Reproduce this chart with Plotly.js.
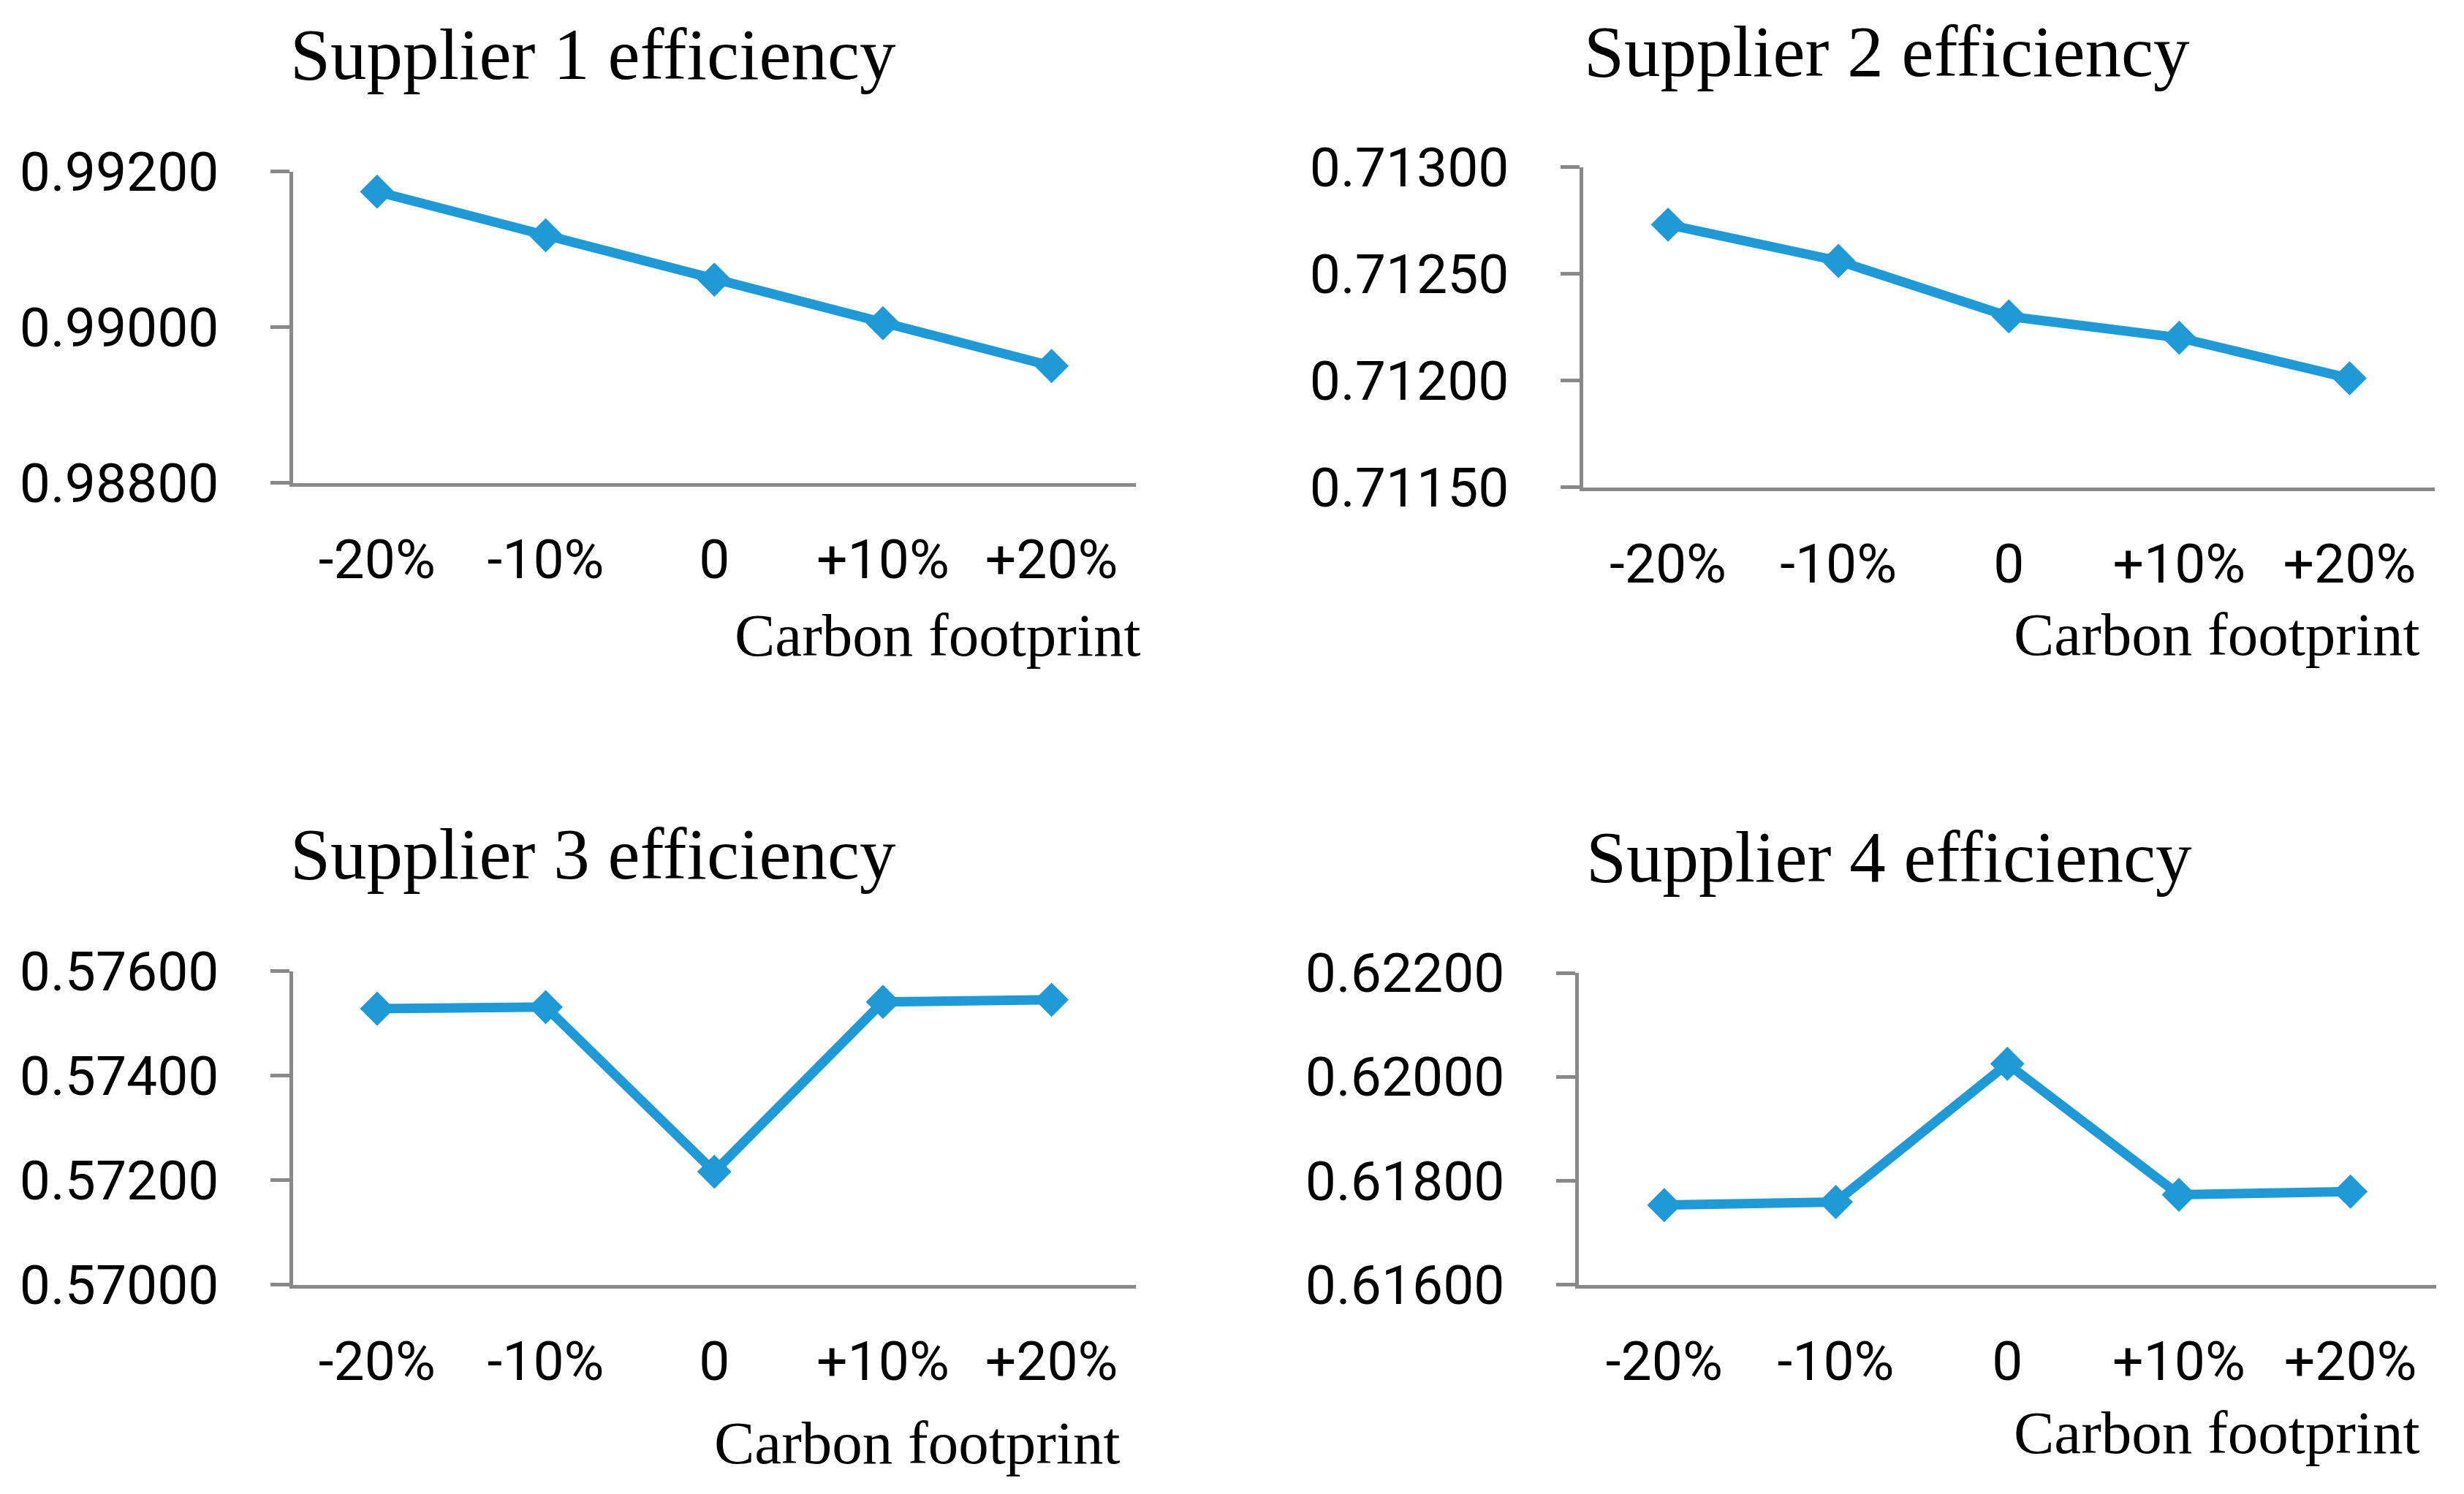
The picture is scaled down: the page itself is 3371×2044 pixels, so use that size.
<!DOCTYPE html>
<html>
<head>
<meta charset="utf-8">
<script src="https://cdn.plot.ly/plotly-3.0.1.min.js"></script>
<style>html,body{margin:0;padding:0;background:#fff;}#chart{width:3371px;height:2044px;}</style>
</head>
<body>
<div id="chart"></div>
<script>
// ---- data ----
const categories = ["-20%", "-10%", "0", "+10%", "+20%"];
const supplier1 = [0.99174, 0.99118, 0.99061, 0.99005, 0.98950];
const supplier2 = [0.71273, 0.71256, 0.71230, 0.71220, 0.71201];
const supplier3 = [0.57528, 0.57531, 0.57216, 0.57541, 0.57545];
const supplier4 = [0.61753, 0.61759, 0.62025, 0.61773, 0.61779];
const titles = ["Supplier 1 efficiency", "Supplier 2 efficiency", "Supplier 3 efficiency", "Supplier 4 efficiency"];
const xTitle = "Carbon footprint";
const yTicks1 = [0.988, 0.990, 0.992];
const yTicks2 = [0.7115, 0.7120, 0.7125, 0.7130];
const yTicks3 = [0.570, 0.572, 0.574, 0.576];
const yTicks4 = [0.616, 0.618, 0.620, 0.622];

// ---- layout helpers (pixel geometry) ----
const W = 3371, H = 2044;
const fx = p => p / W;
const fy = p => 1 - p / H;
const BLUE = "#1f9ad6";
const GRAY = "#898989";

const panels = [
  {x0: 400.5, x1: 1554, yTop: 234.5, yBot: 660.5, ticks: yTicks1, data: supplier1,
   title: [811, 75], xt: [1563, 869]},
  {x0: 2165.5, x1: 3331, yTop: 228.5, yBot: 666.5, ticks: yTicks2, data: supplier2,
   title: [2581, 70], xt: [3313, 868]},
  {x0: 400.5, x1: 1554, yTop: 1328.5, yBot: 1757.5, ticks: yTicks3, data: supplier3,
   title: [811, 1168], xt: [1535, 1974]},
  {x0: 2159.5, x1: 3333, yTop: 1331, yBot: 1757.5, ticks: yTicks4, data: supplier4,
   title: [2584, 1172], xt: [3313, 1960]}
];

const tickFont = {family: "Roboto, 'Noto Sans', sans-serif", size: 75, color: "#000"};
const traces = [];
const layout = {
  width: W, height: H,
  margin: {l: 0, r: 0, t: 0, b: 0},
  paper_bgcolor: "#fff", plot_bgcolor: "#fff",
  showlegend: false,
  annotations: []
};

panels.forEach((p, i) => {
  const n = i === 0 ? "" : String(i + 1);
  traces.push({
    type: "scatter", mode: "lines+markers",
    x: categories, y: p.data,
    xaxis: "x" + n, yaxis: "y" + n,
    line: {color: BLUE, width: 13},
    marker: {symbol: "diamond", size: 36, color: BLUE},
    cliponaxis: false, hoverinfo: "skip"
  });
  layout["xaxis" + n] = {
    domain: [fx(p.x0), fx(p.x1)],
    anchor: "y" + n,
    type: "category",
    range: [-0.5, 4.5],
    showline: true, linewidth: 5, linecolor: GRAY,
    ticks: "", showgrid: false, zeroline: false,
    tickfont: tickFont,
    ticklabelstandoff: 35
  };
  layout["yaxis" + n] = {
    domain: [fy(p.yBot), fy(p.yTop)],
    anchor: "x" + n,
    range: [p.ticks[0], p.ticks[p.ticks.length - 1]],
    tickvals: p.ticks,
    ticktext: p.ticks.map(v => v.toFixed(5)),
    showline: true, linewidth: 5, linecolor: GRAY,
    ticks: "outside", ticklen: 26, tickwidth: 5, tickcolor: GRAY,
    showgrid: false, zeroline: false,
    tickfont: tickFont,
    ticklabelstandoff: 55
  };
  layout.annotations.push({
    text: titles[i], xref: "paper", yref: "paper",
    x: fx(p.title[0]), y: fy(p.title[1]), xanchor: "center", yanchor: "middle",
    showarrow: false,
    font: {family: "'Liberation Serif', 'Times New Roman', serif", size: 99, color: "#000"}
  });
  layout.annotations.push({
    text: xTitle, xref: "paper", yref: "paper",
    x: fx(p.xt[0]), y: fy(p.xt[1]), xanchor: "right", yanchor: "middle",
    showarrow: false,
    font: {family: "'Liberation Serif', 'Times New Roman', serif", size: 83, color: "#000"}
  });
});

Plotly.newPlot("chart", traces, layout, {staticPlot: true, displayModeBar: false});
</script>
</body>
</html>
